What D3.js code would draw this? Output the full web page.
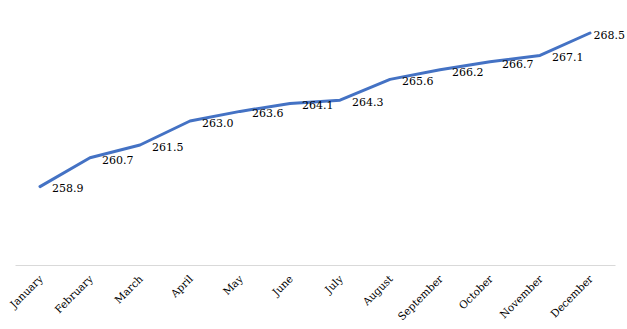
<!DOCTYPE html>
<html>
<head>
<meta charset="utf-8">
<script src="https://cdn.jsdelivr.net/npm/d3@7"></script>
<style>
  html, body { margin: 0; padding: 0; background: #fff; }
  svg { display: block; }
</style>
</head>
<body>
<svg id="chart" width="627" height="329"></svg>
<script>
// Monthly values
const months = ["January", "February", "March", "April", "May", "June",
                "July", "August", "September", "October", "November", "December"];
const values = [258.9, 260.7, 261.5, 263.0, 263.6, 264.1, 264.3, 265.6, 266.2, 266.7, 267.1, 268.5];
const yDomain = [254, 270];

const W = 627, H = 329;
const plot = { left: 15, right: 615, top: 9, bottom: 265 };
const svg = d3.select("#chart");
const serif = "DejaVu Serif, Georgia, serif";

const x = d3.scaleBand().domain(months).range([plot.left, plot.right]);
const y = d3.scaleLinear().domain(yDomain).range([plot.bottom, plot.top]);
const cx = m => x(m) + x.bandwidth() / 2;

// category axis
const xAxis = svg.append("g")
  .attr("transform", `translate(0,${plot.bottom})`)
  .call(d3.axisBottom(x).tickSize(0).tickPadding(0));
xAxis.select(".domain").attr("stroke", "#d9d9d9").attr("stroke-width", 1);
xAxis.selectAll(".tick text")
  .attr("font-family", serif)
  .attr("font-size", 10.5)
  .attr("fill", "#000")
  .attr("text-anchor", "end")
  .attr("transform", "translate(1,12) rotate(-45)")
  .attr("dy", "0.35em")
  .attr("y", 0);

const data = months.map((m, i) => ({ m, v: values[i] }));

// series line
svg.append("path")
  .datum(data)
  .attr("fill", "none")
  .attr("stroke", "#4472C4")
  .attr("stroke-width", 3)
  .attr("stroke-linejoin", "round")
  .attr("stroke-linecap", "round")
  .attr("d", d3.line().x(d => cx(d.m)).y(d => y(d.v)));

// value labels, right of each point
svg.append("g")
  .selectAll("text")
  .data(data)
  .join("text")
  .attr("font-family", serif)
  .attr("font-size", 11)
  .attr("fill", "#000")
  .attr("dy", "0.35em")
  .text(d => d.v.toFixed(1))
  .each(function(d) {
    const w = this.getComputedTextLength();
    const tx = Math.min(cx(d.m) + 12, W - 2 - w);
    d3.select(this).attr("x", tx).attr("y", y(d.v) + 2);
  });
</script>
</body>
</html>
